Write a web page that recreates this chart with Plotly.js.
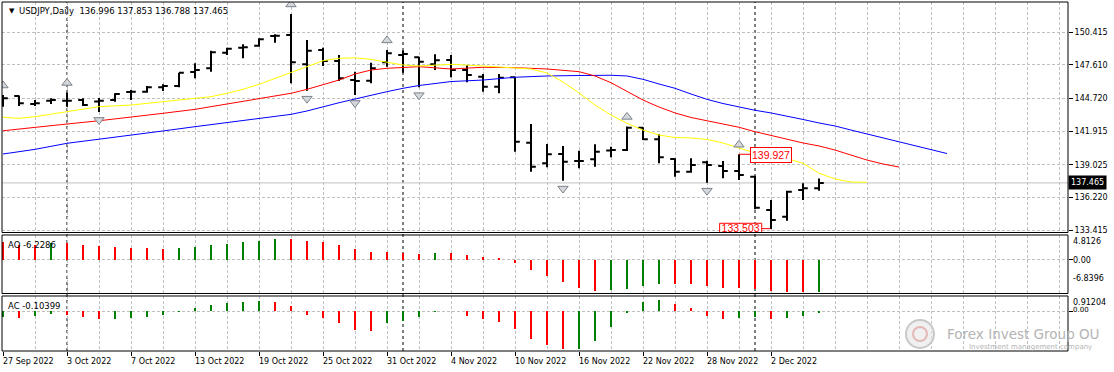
<!DOCTYPE html>
<html><head><meta charset="utf-8">
<script src="https://cdn.plot.ly/plotly-3.0.1.min.js"></script>
<style>html,body{margin:0;padding:0;background:#fff;}#chart{width:1114px;height:372px;}</style>
</head><body><div id="chart"></div>
<script>
const symbolName = 'USDJPY,Daily';
const dateLabels = ['27 Sep 2022','3 Oct 2022','7 Oct 2022','13 Oct 2022','19 Oct 2022','25 Oct 2022','31 Oct 2022','4 Nov 2022','10 Nov 2022','16 Nov 2022','22 Nov 2022','28 Nov 2022','2 Dec 2022'];
const dateLabelBars = [0,4,8,12,16,20,24,28,32,36,40,44,48];
const monthStartBars = [4,25,47];

const open = [144.77,144.94,144.25,144.53,144.53,144.59,144.46,144.59,145.28,145.31,145.69,145.80,147.00,147.32,148.66,149.09,149.26,150.10,150.18,147.66,148.89,147.95,146.31,146.25,147.84,148.46,148.27,147.66,148.03,147.17,146.60,145.74,146.55,140.92,139.15,139.95,139.35,139.50,140.25,140.29,142.21,141.21,139.52,138.43,139.24,138.92,138.49,138.00,135.14,134.56,136.86,136.996];
const high = [145.02,144.98,144.59,144.74,145.24,144.74,144.77,145.17,145.45,145.80,145.94,146.94,147.75,148.83,149.09,149.38,149.90,150.24,151.99,149.75,149.09,148.46,147.03,147.80,148.90,148.85,148.32,148.52,148.46,147.60,146.83,146.83,146.60,142.53,140.81,140.64,140.23,140.78,140.58,142.32,142.25,141.64,139.58,139.58,139.37,139.35,139.927,138.09,136.00,136.80,137.43,137.853];
const low = [144.02,144.08,144.08,144.25,144.02,144.08,143.56,144.45,144.59,145.22,145.37,145.69,146.46,147.03,148.46,148.18,149.18,149.52,146.03,145.39,147.52,146.23,145.02,146.03,147.46,146.94,145.69,147.17,146.55,146.12,145.31,145.17,140.15,138.43,138.81,137.66,138.72,138.86,139.67,140.21,141.15,139.15,138.00,138.34,137.48,137.86,137.72,135.20,133.503,134.22,136.00,136.788];
const close = [144.74,144.31,144.31,144.59,144.53,144.16,144.53,145.11,145.31,145.69,145.80,146.94,147.17,148.70,149.00,149.13,149.81,150.12,147.84,148.83,147.95,146.46,146.23,147.32,148.61,148.55,147.89,148.01,147.17,146.74,145.74,146.51,141.01,138.86,139.93,139.29,139.35,140.15,140.29,142.21,141.21,139.67,138.43,139.00,139.00,138.49,138.15,135.33,134.28,136.71,137.00,137.465];

const lipsBars = [0,1,2,4,6,8,10,12,13,14,15,16,17,18,19,20,21,22,23,24,25,26,28,30,32,33,34,35,36,37,38,39,40,41,42,43,44,45,46,47,48,49,50,51,52,53,54];
const lipsValues = [143.11,143.02,143.16,143.59,144.02,144.16,144.45,144.68,144.88,145.17,145.51,145.94,146.46,146.94,147.46,147.97,148.18,148.22,148.09,147.84,147.60,147.52,147.66,147.52,147.37,147.26,146.92,146.14,145.20,144.16,143.30,142.59,142.01,141.58,141.37,141.33,141.20,140.90,140.47,140.04,139.78,139.56,139.15,138.30,137.80,137.54,137.52];
const teethBars = [0,2,4,6,8,10,12,14,16,18,19,20,21,22,23,24,25,26,28,30,32,34,36,37,38,39,40,41,42,43,44,45,46,47,48,49,50,51,52,53,54,55,56];
const teethValues = [141.95,142.21,142.53,142.81,143.11,143.45,143.79,144.25,144.65,145.17,145.51,145.94,146.31,146.83,147.17,147.32,147.37,147.46,147.26,147.41,147.37,147.26,147.03,146.66,146.08,145.31,144.59,143.99,143.48,143.09,142.81,142.57,142.25,141.87,141.54,141.20,140.90,140.64,140.29,139.86,139.43,139.09,138.83];
const jawBars = [0,2,4,6,8,10,12,14,16,18,19,20,21,22,23,24,25,26,28,30,32,34,36,38,39,40,41,42,43,44,45,46,47,48,49,50,51,52,53,54,55,56,57,58,59];
const jawValues = [139.95,140.35,140.87,141.21,141.58,141.93,142.30,142.64,142.96,143.36,143.65,144.02,144.36,144.68,145.02,145.31,145.60,145.84,146.18,146.31,146.55,146.66,146.70,146.72,146.66,146.37,145.97,145.60,145.11,144.65,144.29,143.97,143.71,143.48,143.22,142.92,142.62,142.36,142.01,141.67,141.33,140.98,140.64,140.29,139.99];

const fractalUpBars = [0,4,18,24,39,46];
const fractalDownBars = [6,19,22,26,35,44,48];

const aoValues = [3.60,2.95,2.90,3.28,3.25,2.95,2.75,2.49,2.30,2.28,2.25,2.32,2.61,2.95,3.14,3.48,3.73,4.13,4.10,3.73,3.48,2.95,2.16,1.51,1.49,1.32,1.18,1.40,1.36,0.98,0.53,0.33,-0.65,-1.96,-3.08,-4.26,-5.44,-6.03,-5.89,-5.70,-5.05,-4.72,-4.75,-4.80,-5.05,-5.44,-5.50,-5.70,-6.05,-6.20,-6.30,-6.2286];
const acValues = [-0.35,-0.41,-0.30,-0.18,-0.24,-0.35,-0.49,-0.47,-0.41,-0.35,-0.24,-0.06,0.18,0.36,0.50,0.55,0.61,0.55,0.30,-0.24,-0.41,-0.71,-1.16,-1.22,-0.75,-0.60,-0.39,-0.04,0.01,-0.28,-0.50,-0.65,-1.09,-1.70,-2.07,-2.31,-2.29,-1.82,-0.95,-0.14,0.53,0.67,0.43,0.18,-0.28,-0.50,-0.44,-0.35,-0.50,-0.44,-0.32,-0.10399];
const aoFirstRising = false;
const acFirstRising = true;

const priceTicks = [150.415,147.610,144.720,141.915,139.025,136.220,133.415];
const aoScaleLabels = ['4.8126','0.00','-6.8396'];
const acScaleLabels = ['0.91204','0.00'];
const markedHighBar = 46;
const markedLowBar = 48;

// ---------- build ----------
const N = open.length;
const idx = open.map((_, i) => i);
const last = N - 1;
const GREEN = '#008000', RED = '#ff0000';
const colorsFor = (vals, firstRising) => vals.map((v, i) => (i === 0 ? firstRising : v > vals[i - 1]) ? GREEN : RED);
const fmt = v => v.toFixed(3);
const GRID = '#c0c0c0';
const AXFONT = {family: 'DejaVu Sans', size: 8, color: '#000'};

const traces = [
  {type:'scatter', mode:'lines', x: jawBars, y: jawValues, line:{color:'#0000ff', width:1}, hoverinfo:'skip', xaxis:'x', yaxis:'y'},
  {type:'scatter', mode:'lines', x: teethBars, y: teethValues, line:{color:'#ff0000', width:1}, hoverinfo:'skip', xaxis:'x', yaxis:'y'},
  {type:'scatter', mode:'lines', x: lipsBars, y: lipsValues, line:{color:'#ffff00', width:1}, hoverinfo:'skip', xaxis:'x', yaxis:'y'},
  {type:'ohlc', x: idx, open, high, low, close, tickwidth: 0.3,
   increasing:{line:{color:'#000', width:2}}, decreasing:{line:{color:'#000', width:2}},
   hoverinfo:'skip', xaxis:'x', yaxis:'y'},
  {type:'scatter', mode:'markers', x: fractalUpBars, y: fractalUpBars.map(b => high[b] + 0.82),
   marker:{symbol:'triangle-up', size:9, color:'#d4d8dc', line:{color:'#7c828a', width:1}}, hoverinfo:'skip', xaxis:'x', yaxis:'y'},
  {type:'scatter', mode:'markers', x: fractalDownBars, y: fractalDownBars.map(b => low[b] - 0.68),
   marker:{symbol:'triangle-down', size:9, color:'#d4d8dc', line:{color:'#7c828a', width:1}}, hoverinfo:'skip', xaxis:'x', yaxis:'y'},
  {type:'scatter', mode:'text', x:[markedLowBar - 1.9], y:[low[markedLowBar] - 0.02], text:[fmt(low[markedLowBar])],
   textfont:{family:'Liberation Sans', size:10.5, color:RED}, textposition:'middle center', cliponaxis:true, hoverinfo:'skip', xaxis:'x', yaxis:'y'},
  {type:'bar', x: idx, y: aoValues, width: 0.13, marker:{color: colorsFor(aoValues, aoFirstRising), line:{width:0}}, hoverinfo:'skip', xaxis:'x', yaxis:'y2'},
  {type:'bar', x: idx, y: acValues, width: 0.13, marker:{color: colorsFor(acValues, acFirstRising), line:{width:0}}, hoverinfo:'skip', xaxis:'x', yaxis:'y3'}
];

const shapes = [];
['y','y2','y3'].forEach(a => shapes.push({type:'rect', xref:'paper', yref: a + ' domain', x0:0, x1:1, y0:0, y1:1, line:{color:'#000', width:1}, layer:'above'}));
monthStartBars.forEach(b => shapes.push({type:'line', xref:'x', yref:'paper', x0:b, x1:b, y0:0, y1:1, line:{color:'#000', width:1, dash:'3px,3px'}, layer:'between'}));
shapes.push({type:'line', xref:'paper', yref:'y', x0:0, x1:1, y0:close[last], y1:close[last], line:{color:'#c0c0c0', width:1}, layer:'between'});
shapes.push({type:'line', xref:'x', yref:'y', x0:markedHighBar, x1:markedHighBar + 0.69, y0:high[markedHighBar], y1:high[markedHighBar], line:{color:RED, width:1}, layer:'above'});
shapes.push({type:'rect', xref:'x', yref:'y', x0:markedLowBar - 3.21, x1:markedLowBar - 0.58, y0:low[markedLowBar] - 1.2, y1:low[markedLowBar] + 0.49, line:{color:RED, width:1}, fillcolor:'#fff', layer:'between'});
shapes.push({type:'line', xref:'x', yref:'y', x0:markedLowBar - 0.58, x1:markedLowBar, y0:low[markedLowBar] + 0.03, y1:low[markedLowBar] + 0.03, line:{color:RED, width:1}, layer:'between'});
shapes.push({type:'circle', xref:'paper', yref:'paper', x0:(906-2)/1066, x1:(934-2)/1066, y0:(351-348)/349, y1:(351-320)/349, line:{color:'#c8c8c8', width:2}, fillcolor:'rgba(230,230,230,0.6)', layer:'above'});
shapes.push({type:'circle', xref:'paper', yref:'paper', x0:(913-2)/1066, x1:(927-2)/1066, y0:(351-341)/349, y1:(351-327)/349, line:{color:'rgba(220,160,160,0.7)', width:2}, fillcolor:'rgba(0,0,0,0)', layer:'above'});

const annotations = [];
annotations.push({xref:'paper', yref:'paper', x:0, y:1, xanchor:'left', yanchor:'middle', xshift:5, yshift:-9, text:'▼', showarrow:false, font:{family:'DejaVu Sans', size:7, color:'#000'}});
annotations.push({xref:'paper', yref:'paper', x:0, y:1, xanchor:'left', yanchor:'middle', xshift:15, yshift:-9, showarrow:false,
  text: symbolName + '  ' + [open[last], high[last], low[last], close[last]].map(fmt).join(' '), font:{family:'DejaVu Sans', size:8.5, color:'#000'}});
annotations.push({xref:'paper', yref:'y2 domain', x:0, y:1, xanchor:'left', yanchor:'middle', xshift:4, yshift:-10, showarrow:false,
  text:'AO ' + aoValues[last].toFixed(4), font:{family:'DejaVu Sans', size:8.5, color:'#000'}});
annotations.push({xref:'paper', yref:'y3 domain', x:0, y:1, xanchor:'left', yanchor:'middle', xshift:4, yshift:-10, showarrow:false,
  text:'AC ' + acValues[last].toFixed(5), font:{family:'DejaVu Sans', size:8.5, color:'#000'}});
annotations.push({xref:'paper', yref:'y2 domain', x:1, y:1, xanchor:'left', yanchor:'middle', xshift:3, yshift:-7, text:aoScaleLabels[0], showarrow:false, font:AXFONT});
annotations.push({xref:'paper', yref:'y2', x:1, y:0, xanchor:'left', yanchor:'middle', xshift:3, yshift:-1, text:aoScaleLabels[1], showarrow:false, font:AXFONT});
annotations.push({xref:'paper', yref:'y2 domain', x:1, y:0, xanchor:'left', yanchor:'middle', xshift:3, yshift:15, text:aoScaleLabels[2], showarrow:false, font:AXFONT});
annotations.push({xref:'paper', yref:'y3 domain', x:1, y:1, xanchor:'left', yanchor:'middle', xshift:3, yshift:-7, text:acScaleLabels[0], showarrow:false, font:AXFONT});
annotations.push({xref:'paper', yref:'y3', x:1, y:0, xanchor:'left', yanchor:'middle', xshift:3, yshift:1, text:acScaleLabels[1], showarrow:false, font:{family:'DejaVu Sans', size:7, color:'#000'}});
annotations.push({xref:'paper', yref:'y', x:1, y:close[last], xanchor:'left', yanchor:'middle', xshift:0, text:fmt(close[last]), showarrow:false,
  bgcolor:'#000', borderpad:2, font:{family:'DejaVu Sans', size:8, color:'#fff'}});
annotations.push({xref:'x', yref:'y', x:markedHighBar, y:high[markedHighBar], xanchor:'left', yanchor:'middle', xshift:11, yshift:-1, text:fmt(high[markedHighBar]), showarrow:false,
  bgcolor:'#fff', bordercolor:RED, borderwidth:1, borderpad:1, font:{family:'Liberation Sans', size:10.5, color:RED}});
dateLabels.forEach((t, k) => annotations.push({xref:'x', yref:'paper', x:dateLabelBars[k], y:0, xanchor:'left', yanchor:'middle', xshift:-2, yshift:-10, text:t, showarrow:false, font:AXFONT}));
annotations.push({xref:'paper', yref:'paper', x:(1023-2)/1066, y:(351-334)/349, xanchor:'center', yanchor:'middle', text:'Forex Invest Group OU', showarrow:false,
  font:{family:'DejaVu Sans', size:13.5, color:'#b4b4b4'}});
annotations.push({xref:'paper', yref:'paper', x:(1030-2)/1066, y:(351-347)/349, xanchor:'center', yanchor:'middle', text:'Investment management company', showarrow:false,
  font:{family:'DejaVu Sans', size:7, color:'#b4b4b4'}});

const layout = {
  width:1114, height:372,
  margin:{l:2, r:46, t:2, b:21, pad:0},
  paper_bgcolor:'#fff', plot_bgcolor:'#fff',
  showlegend:false, font:AXFONT, bargap:0,
  xaxis:{anchor:'y3', range:[-0.0625, 66.5625], fixedrange:true, rangeslider:{visible:false},
    tickvals: dateLabelBars, ticktext: dateLabelBars.map(() => ''), ticks:'outside', ticklen:4, tickcolor:'#000',
    showgrid:true, gridcolor:GRID, griddash:'3px,2px', gridwidth:1, zeroline:false, showline:false,
    minor:{tick0:0, dtick:2, showgrid:true, gridcolor:GRID, griddash:'3px,2px', ticks:''}},
  yaxis:{domain:[0.3395, 1], range:[133.20, 153.02], side:'right', fixedrange:true,
    tickvals: priceTicks, ticktext: priceTicks.map(fmt), ticks:'outside', ticklen:4, tickcolor:'#000', tickfont:AXFONT,
    showgrid:true, gridcolor:GRID, griddash:'3px,2px', zeroline:false, showline:false},
  yaxis2:{domain:[0.1648, 0.3324], range:[-6.58, 4.91], side:'right', fixedrange:true,
    tickvals:[0], ticks:'outside', ticklen:4, tickcolor:'#000', showticklabels:false,
    showgrid:true, gridcolor:GRID, griddash:'3px,2px', zeroline:false, showline:false},
  yaxis3:{domain:[0, 0.1576], range:[-2.43, 0.912], side:'right', fixedrange:true,
    tickvals:[0], ticks:'outside', ticklen:4, tickcolor:'#000', showticklabels:false,
    showgrid:true, gridcolor:GRID, griddash:'3px,2px', zeroline:false, showline:false},
  shapes, annotations
};

Plotly.newPlot('chart', traces, layout, {displayModeBar:false, staticPlot:true});
</script></body></html>
